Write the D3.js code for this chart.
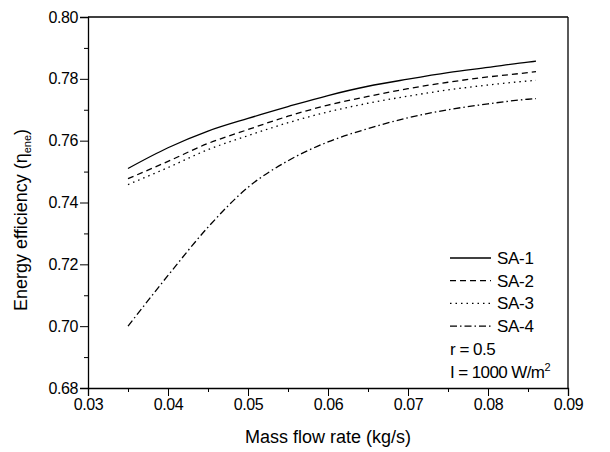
<!DOCTYPE html>
<html lang="en">
<head>
  <meta charset="UTF-8" />
  <title>Energy efficiency vs mass flow rate</title>
  <script src="https://d3js.org/d3.v7.min.js"></script>
  <style>
    body { margin: 0; background: white; }
    svg { display: block; font-family: "Liberation Sans", Arial, sans-serif; }
    .tick text { font-size: 16px; letter-spacing: -0.4px; }
  </style>
</head>
<body>
<svg width="610" height="452"></svg>
<script>
const flowRates = [0.035, 0.04, 0.045, 0.05, 0.055, 0.06, 0.065, 0.07, 0.075, 0.08, 0.085, 0.086];
const sa1 = [0.7510, 0.7577, 0.7631, 0.7672, 0.7710, 0.7746, 0.7776, 0.7799, 0.7820, 0.7837, 0.7854, 0.7857];
const sa2 = [0.7477, 0.7533, 0.7591, 0.7636, 0.7679, 0.7715, 0.7743, 0.7768, 0.7789, 0.7806, 0.7820, 0.7823];
const sa3 = [0.7458, 0.7513, 0.7571, 0.7616, 0.7658, 0.7693, 0.7721, 0.7744, 0.7764, 0.7780, 0.7793, 0.7795];
const sa4 = [0.7000, 0.7164, 0.7320, 0.7449, 0.7535, 0.7596, 0.7639, 0.7674, 0.7700, 0.7719, 0.7734, 0.7736];
const seriesNames = ["SA-1", "SA-2", "SA-3", "SA-4"];
const xTicks = [0.03, 0.04, 0.05, 0.06, 0.07, 0.08, 0.09];
const yTicks = [0.68, 0.70, 0.72, 0.74, 0.76, 0.78, 0.80];

const dashes = ["none", "6,4", "1.5,4", "7,3,1.5,3"];
const series = [sa1, sa2, sa3, sa4].map((vals, i) => ({
  name: seriesNames[i],
  dash: dashes[i],
  points: flowRates.map((x, j) => ({ x, y: vals[j] }))
}));

const svg = d3.select("svg");
const margin = { top: 17, right: 42, bottom: 64, left: 88 };
const width = 610 - margin.left - margin.right;
const height = 452 - margin.top - margin.bottom;
const g = svg.append("g").attr("transform", `translate(${margin.left},${margin.top})`);

const x = d3.scaleLinear().domain([0.03, 0.09]).range([0, width]);
const y = d3.scaleLinear().domain([0.68, 0.80]).range([height, 0]);

// minor ticks
g.append("g").attr("transform", `translate(0,${height})`)
  .call(d3.axisBottom(x).tickValues(d3.range(0.035, 0.09, 0.01)).tickSize(4).tickFormat(""))
  .call(a => a.select(".domain").remove());
g.append("g")
  .call(d3.axisLeft(y).tickValues(d3.range(0.69, 0.80, 0.02)).tickSize(4).tickFormat(""))
  .call(a => a.select(".domain").remove());

// major axes
g.append("g").attr("transform", `translate(0,${height})`)
  .call(d3.axisBottom(x).tickValues(xTicks).tickSize(8).tickPadding(3).tickFormat(d3.format(".2f")))
  .call(a => a.select(".domain").attr("stroke-width", 1.3));
g.append("g")
  .call(d3.axisLeft(y).tickValues(yTicks).tickSize(8).tickPadding(2).tickFormat(d3.format(".2f")))
  .call(a => a.select(".domain").attr("stroke-width", 1.3));
g.selectAll(".tick text").attr("fill", "#000");

// top and right frame
g.append("line").attr("x1", 0).attr("x2", width).attr("y1", 0).attr("y2", 0).attr("stroke", "#000").attr("stroke-width", 1.3);
g.append("line").attr("x1", width).attr("x2", width).attr("y1", 0).attr("y2", height).attr("stroke", "#000").attr("stroke-width", 1.3);

const line = d3.line().x(d => x(d.x)).y(d => y(d.y)).curve(d3.curveMonotoneX);
g.selectAll("path.series")
  .data(series).join("path")
  .attr("class", "series")
  .attr("fill", "none")
  .attr("stroke", "#000")
  .attr("stroke-width", 1.3)
  .attr("stroke-dasharray", d => d.dash)
  .attr("d", d => line(d.points));

// legend
const legend = g.append("g").attr("transform", "translate(362,241)");
series.forEach((s, i) => {
  const item = legend.append("g").attr("transform", `translate(0,${i * 22.7})`);
  item.append("line").attr("x1", 0).attr("x2", 41).attr("y1", 0).attr("y2", 0)
    .attr("stroke", "#000").attr("stroke-width", 1.3).attr("stroke-dasharray", s.dash);
  item.append("text").attr("x", 47).attr("y", 6).attr("font-size", 17).attr("letter-spacing", -0.3).text(s.name);
});
legend.append("text").attr("x", 0).attr("y", 4 * 22.7 + 6).attr("font-size", 17).attr("letter-spacing", -0.5).text("r = 0.5");
const irr = legend.append("text").attr("x", 0).attr("y", 5 * 22.7 + 6).attr("font-size", 17).attr("letter-spacing", -0.6);
irr.append("tspan").text("I = 1000 W/m");
irr.append("tspan").attr("font-size", 11).attr("dy", -7).text("2");

// axis titles
svg.append("text").attr("x", margin.left + width / 2).attr("y", 443)
  .attr("text-anchor", "middle").attr("font-size", 18)
  .text("Mass flow rate (kg/s)");
const yl = svg.append("text").attr("transform", "translate(27,220) rotate(-90)")
  .attr("text-anchor", "middle").attr("font-size", 18);
yl.append("tspan").text("Energy efficiency (");
yl.append("tspan").text("η");
yl.append("tspan").attr("font-size", 11).attr("dy", 4).text("ene");
yl.append("tspan").attr("dy", -4).text(")");
</script>
</body>
</html>
